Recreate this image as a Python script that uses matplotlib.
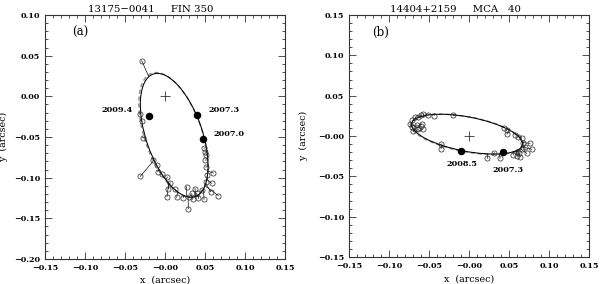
import numpy as np
import matplotlib
matplotlib.use('Agg')
import matplotlib.pyplot as plt
from matplotlib.patches import Ellipse
from matplotlib.ticker import MultipleLocator

plt.rcParams['font.family'] = ['DejaVu Serif']
plt.rcParams['font.weight'] = 'bold'

# ---- panel (a): 13175-0041  FIN 350 ----
title_a = '13175\u22120041     FIN 350'
# orbit (centre x, centre y, semi-major, semi-minor, angle deg)
orbit_a = (0.0115, -0.0479, 0.0797, 0.0351, 109.34)
orbit_a2 = (0.0105, -0.0474, 0.0805, 0.0357, 109.8)
obs_a_x = [-0.0291, -0.0309, -0.0290, -0.0281, -0.0309, -0.0144, -0.0106, -0.0091, -0.0041, 0.0031,
           0.0041, 0.0063, 0.0125, 0.0025, 0.0146, 0.0229, 0.0271, 0.0291, 0.0304, 0.0346,
           0.0334, 0.0375, 0.0396, 0.0416, 0.0459, 0.0488, 0.0666, 0.0571, 0.0584, 0.0604,
           0.0513, 0.0529, 0.0509, 0.0504, 0.0500, 0.0488, 0.0513]
obs_a_y = [0.0438, -0.0215, -0.0300, -0.0507, -0.0984, -0.0777, -0.0845, -0.0925, -0.0960, -0.0993,
           -0.1138, -0.1060, -0.1144, -0.1235, -0.1242, -0.1245, -0.1110, -0.1380, -0.1235, -0.1267,
           -0.1193, -0.1134, -0.1193, -0.1255, -0.1153, -0.1267, -0.1220, -0.1173, -0.1070, -0.0943,
           -0.1050, -0.0968, -0.0870, -0.0784, -0.0685, -0.0636, -0.0722]
fit_a_x = [-0.0203, -0.0304, -0.0293, -0.0246, -0.0137, -0.0137, -0.0106, -0.0073, -0.0040, 0.0010,
           0.0046, 0.0060, 0.0130, 0.0046, 0.0160, 0.0230, 0.0270, 0.0290, 0.0300, 0.0350,
           0.0340, 0.0380, 0.0400, 0.0420, 0.0470, 0.0480, 0.0500, 0.0510, 0.0525, 0.0535,
           0.0520, 0.0530, 0.0538, 0.0535, 0.0530, 0.0525, 0.0535]
fit_a_y = [0.0242, -0.0204, -0.0293, -0.0502, -0.0785, -0.0785, -0.0845, -0.0902, -0.0956, -0.1025,
           -0.1068, -0.1080, -0.1150, -0.1068, -0.1170, -0.1220, -0.1232, -0.1236, -0.1237, -0.1235,
           -0.1235, -0.1230, -0.1220, -0.1210, -0.1160, -0.1140, -0.1100, -0.1070, -0.1020, -0.0920,
           -0.1040, -0.0970, -0.0860, -0.0780, -0.0680, -0.0630, -0.0720]
epoch_a_x = [-0.0196, 0.0396, 0.0480]
epoch_a_y = [-0.0246, -0.0230, -0.0530]
epoch_a_lbl = ['2009.4', '2007.3', '2007.0']
epoch_a_tx = [-0.0604, 0.0740, 0.0796]
epoch_a_ty = [-0.0169, -0.0170, -0.0467]

# ---- panel (b): 14404+2159  MCA 40 ----
title_b = '14404+2159     MCA   40'
orbit_b = (-0.0023, 0.0023, 0.0706, 0.0213, -10.7)
orbit_b2 = (-0.0026, 0.0021, 0.0712, 0.0218, -10.5)
obs_b_x = [-0.0738, -0.0716, -0.0696, -0.0716, -0.0675, -0.0634, -0.0600, -0.0571, -0.0509, -0.0435,
           -0.0196, -0.0654, -0.0634, -0.0591, -0.0579, -0.0604, -0.0348, -0.0350, 0.0229, 0.0316,
           0.0388, 0.0438, 0.0469, 0.0475, 0.0575, 0.0616, 0.0659, 0.0671, 0.0763, 0.0700,
           0.0784, 0.0659, 0.0629, 0.0604, 0.0638, 0.0721, 0.0596, 0.0554]
obs_b_y = [0.0148, 0.0204, 0.0056, 0.0115, 0.0235, 0.0241, 0.0260, 0.0269, 0.0260, 0.0254,
           0.0260, 0.0136, 0.0083, 0.0145, 0.0083, 0.0120, -0.0100, -0.0155, -0.0277, -0.0207,
           -0.0277, 0.0103, 0.0074, 0.0024, 0.0012, -0.0009, -0.0025, -0.0091, -0.0091, -0.0133,
           -0.0165, -0.0165, -0.0215, -0.0248, -0.0257, -0.0215, -0.0195, -0.0236]
fit_b_x = [-0.0717, -0.0683, -0.0690, -0.0710, -0.0660, -0.0630, -0.0604, -0.0570, -0.0510, -0.0440,
           -0.0190, -0.0700, -0.0670, -0.0690, -0.0660, -0.0680, -0.0360, -0.0340, 0.0230, 0.0310,
           0.0380, 0.0420, 0.0480, 0.0500, 0.0580, 0.0610, 0.0640, 0.0660, 0.0665, 0.0660,
           0.0650, 0.0637, 0.0610, 0.0590, 0.0600, 0.0640, 0.0575, 0.0550]
fit_b_y = [0.0154, 0.0204, 0.0080, 0.0120, 0.0220, 0.0230, 0.0241, 0.0250, 0.0260, 0.0268,
           0.0260, 0.0130, 0.0060, 0.0110, 0.0050, 0.0090, -0.0110, -0.0110, -0.0225, -0.0224,
           -0.0220, 0.0110, 0.0080, 0.0075, 0.0030, 0.0000, -0.0030, -0.0070, -0.0080, -0.0120,
           -0.0130, -0.0158, -0.0170, -0.0180, -0.0175, -0.0155, -0.0190, -0.0196]
epoch_b_x = [-0.0104, 0.0421]
epoch_b_y = [-0.0183, -0.0195]
epoch_b_lbl = ['2008.5', '2007.3']
epoch_b_tx = [-0.0090, 0.0491]
epoch_b_ty = [-0.0348, -0.0420]

ticks = [-0.15, -0.10, -0.05, 0.0, 0.05, 0.10, 0.15]
xtick_lbl = ['\u22120.15', '\u22120.10', '\u22120.05', '\u22120.00', '0.05', '0.10', '0.15']
yticks_a = [-0.20, -0.15, -0.10, -0.05, 0.0, 0.05, 0.10]
ytick_lbl_a = ['\u22120.20', '\u22120.15', '\u22120.10', '\u22120.05', '0.00', '0.05', '0.10']
yticks_b = ticks
ytick_lbl_b = xtick_lbl


def panel(ax, title, letter, letter_xy, orbit, orbit2, ox, oy, fx, fy, ex, ey, elbl, tx, ty,
          ylim, yticks, ylbls, ylab_x, xlab_y):
    ax.set_xlim(-0.15, 0.15)
    ax.set_ylim(*ylim)
    ax.add_patch(Ellipse(orbit2[:2], 2 * orbit2[2], 2 * orbit2[3], angle=orbit2[4],
                         fill=False, ec='#8a8a8a', lw=1.0, ls=(0, (3, 2))))
    ax.add_patch(Ellipse(orbit[:2], 2 * orbit[2], 2 * orbit[3], angle=orbit[4],
                         fill=False, ec='black', lw=0.75))
    for x0, y0, x1, y1 in zip(ox, oy, fx, fy):
        ax.plot([x0, x1], [y0, y1], color='#111111', lw=0.5)
    ax.plot(ox, oy, 'o', mfc='none', mec='#222222', mew=0.5, ms=3.7)
    ax.plot(ex, ey, 'o', color='black', ms=4.4)
    for lbl, x, y in zip(elbl, tx, ty):
        ax.text(x, y, lbl, fontsize=5.9, ha='center', va='center')
    ax.plot([0], [0], '+', color='#333333', ms=7.5, mew=0.6)
    ax.text(letter_xy[0], letter_xy[1], letter, fontsize=8.5, ha='center', va='center',
            fontweight='normal')
    ax.set_title(title, fontsize=7.3, pad=2.5, x=0.442)
    ax.set_xticks(ticks)
    ax.set_xticklabels(xtick_lbl)
    ax.set_yticks(yticks)
    ax.set_yticklabels(ylbls)
    ax.xaxis.set_minor_locator(MultipleLocator(0.01))
    ax.yaxis.set_minor_locator(MultipleLocator(0.01))
    ax.tick_params(which='both', direction='in', top=True, right=True, labelsize=5.8,
                   color='#333333', width=0.6)
    ax.tick_params(which='major', length=5, pad=3.5)
    ax.tick_params(which='minor', length=2.5)
    for s in ax.spines.values():
        s.set_linewidth(0.8)
        s.set_color('#333333')
    ax.set_xlabel('x  (arcsec)', fontsize=6.8)
    ax.set_ylabel('y  (arcsec)', fontsize=6.8)
    ax.xaxis.set_label_coords(0.5, xlab_y)
    ax.yaxis.set_label_coords(ylab_x, 0.5)


fig = plt.figure(figsize=(6, 2.84), dpi=100)
ax1 = fig.add_axes([45 / 600, 1 - 259 / 284, 240 / 600, 244 / 284])
ax2 = fig.add_axes([349 / 600, 1 - 257 / 284, 240 / 600, 242 / 284])

panel(ax1, title_a, '(a)', (-0.106, 0.078), orbit_a, orbit_a2, obs_a_x, obs_a_y, fit_a_x, fit_a_y,
      epoch_a_x, epoch_a_y, epoch_a_lbl, epoch_a_tx, epoch_a_ty,
      (-0.20, 0.10), yticks_a, ytick_lbl_a, -0.154, -0.066)
panel(ax2, title_b, '(b)', (-0.11, 0.1285), orbit_b, orbit_b2, obs_b_x, obs_b_y, fit_b_x, fit_b_y,
      epoch_b_x, epoch_b_y, epoch_b_lbl, epoch_b_tx, epoch_b_ty,
      (-0.15, 0.15), yticks_b, ytick_lbl_b, -0.171, -0.074)

fig.savefig('out.png', dpi=100)
